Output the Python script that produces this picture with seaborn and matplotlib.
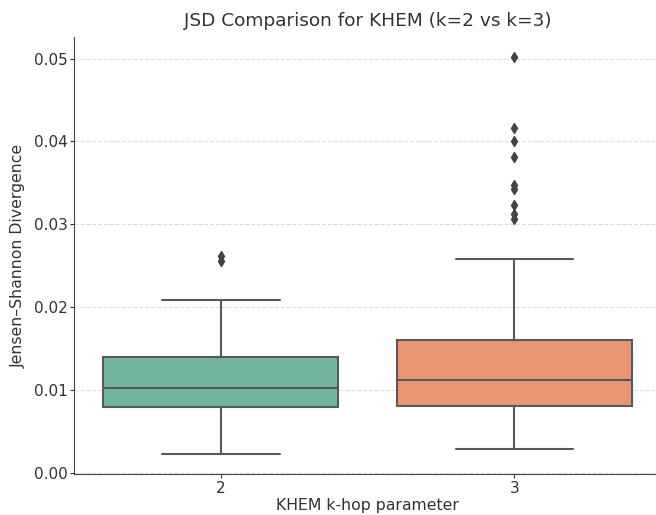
import pandas as pd
import matplotlib
matplotlib.use("Agg")
import matplotlib.pyplot as plt
import seaborn as sns

# JSD values per k-hop setting
k_labels = ["2", "3"]

jsd_k2 = [0.0022, 0.0041, 0.0055, 0.0063, 0.0072, 0.0079, 0.0084, 0.0089,
          0.0093, 0.0098, 0.0102, 0.0108, 0.0115, 0.0123, 0.0131, 0.0140,
          0.0156, 0.0178, 0.0208, 0.0255, 0.0262]

jsd_k3 = [0.0028, 0.0041, 0.0050, 0.0057, 0.0063, 0.0068, 0.0071, 0.0074,
          0.0076, 0.0078, 0.0080, 0.0083, 0.0087, 0.0090, 0.0094, 0.0097,
          0.0100, 0.0103, 0.0106, 0.0109, 0.0112, 0.0116, 0.0120, 0.0124,
          0.0129, 0.0134, 0.0139, 0.0144, 0.0149, 0.0155, 0.0160, 0.0258,
          0.0306, 0.0312, 0.0323, 0.0343, 0.0347, 0.0381, 0.0401, 0.0416,
          0.0502]

df = pd.DataFrame({
    "k": [k_labels[0]] * len(jsd_k2) + [k_labels[1]] * len(jsd_k3),
    "jsd": jsd_k2 + jsd_k3,
})

sns.set_style("ticks")
plt.rcParams["font.family"] = ["DejaVu Sans"]

fig = plt.figure(figsize=(6.56, 5.15), dpi=100)
ax = fig.add_axes([0.113, 0.079, 0.895, 0.849])

sns.boxplot(data=df, x="k", y="jsd", hue="k", palette="Set2", legend=False,
            saturation=0.75, width=0.8, linecolor="#595959", linewidth=1.5,
            flierprops=dict(marker="d", markerfacecolor="#444444",
                            markeredgecolor="#444444", markersize=5),
            ax=ax)

ax.yaxis.grid(True, linestyle="--", color="#dddddd", linewidth=0.8)
ax.set_axisbelow(True)
ax.set_yticks([0.00, 0.01, 0.02, 0.03, 0.04, 0.05])
ax.set_title("JSD Comparison for KHEM (k=2 vs k=3)", fontsize=13.3,
             color="#333333", pad=8)
ax.set_xlabel("KHEM k-hop parameter", fontsize=11.3, color="#333333", labelpad=2)
ax.set_ylabel("Jensen–Shannon Divergence", fontsize=11.3, color="#333333", labelpad=6)
ax.tick_params(labelsize=11, colors="#333333", length=3, pad=1.5)
for side in ["left", "bottom"]:
    ax.spines[side].set_color("#444444")
sns.despine(ax=ax)

plt.savefig("out.png", dpi=100)
plt.close()
